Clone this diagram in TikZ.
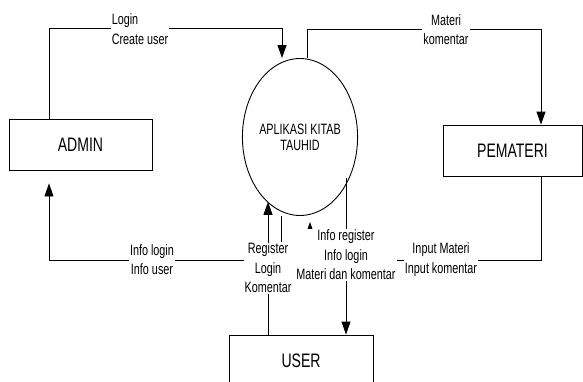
\documentclass[tikz,border=0pt]{standalone}
\usepackage{fontspec}
\setmainfont{Liberation Sans}[FakeStretch=0.72]
\usetikzlibrary{arrows.meta,shapes.geometric}
\tikzset{
  flow/.style={draw, line width=0.9pt, -{Triangle[length=13pt,width=9pt]}},
  lbl/.style={fill=white, inner sep=1pt, align=center, font=\fontsize{15}{19.5}\selectfont},
  entity/.style={draw, line width=0.9pt, minimum height=51pt, inner sep=0pt, font=\fontsize{19.5}{22}\selectfont},
  proc/.style={draw, line width=0.9pt, ellipse, minimum width=104pt, minimum height=157pt, inner sep=0pt, align=center, font=\fontsize{15}{16}\selectfont}
}
\begin{document}
\begin{tikzpicture}[x=1pt,y=1pt]
\clip (0,0) rectangle (583,381);
\fill[white] (0,0) rectangle (583,381);
% nodes
\node[proc] (app) at (300,244) {APLIKASI KITAB\\TAUHID};
\node[entity, minimum width=143pt] (admin) at (80.5,236.5) {ADMIN};
\node[entity, minimum width=139pt] (pem) at (512.5,230.5) {PEMATERI};
\node[entity, minimum width=144pt] (user) at (301,20.5) {USER};
% helper coordinates
\coordinate (u5) at ([xshift=-33pt]user.north);
\coordinate (u6) at ([xshift=45pt]user.north);
\coordinate (t4) at (310,159);
\coordinate (a3) at ([xshift=-31.5pt,yshift=-13pt]admin.south);
% connectors
\draw[flow] ([xshift=-31.5pt]admin.north) -- ++(0,90) -| ([xshift=-18pt]app.north);
\draw[flow] ([xshift=7pt]app.north) -- ++(0,29) -| ([xshift=28.5pt]pem.north);
\draw[flow] ([xshift=-19pt]app.south) -- ++(0,-44) -| (a3);
\draw[flow] ([xshift=28.5pt]pem.south) -- ++(0,-83.5) -| (t4);
\draw[flow] (u5) -- (u5 |- app.243);
\draw[flow] (u6 |- app.-40) -- (u6);
% labels
\node[lbl, align=left] (l1) at (140,352) {Login\\Create user};
\node[lbl] (l2) at (446,351.5) {Materi\\komentar};
\node[lbl] (l3) at (152,121.5) {Info login\\Info user};
\node[lbl] (l4) at (441,121.5) {Input Materi\\Input komentar};
\node[lbl] (l5) at (268,113) {Register\\Login\\Komentar};
\node[lbl] (l6) at (346,126) {Info register\\Info login\\Materi dan komentar};
\end{tikzpicture}
\end{document}
